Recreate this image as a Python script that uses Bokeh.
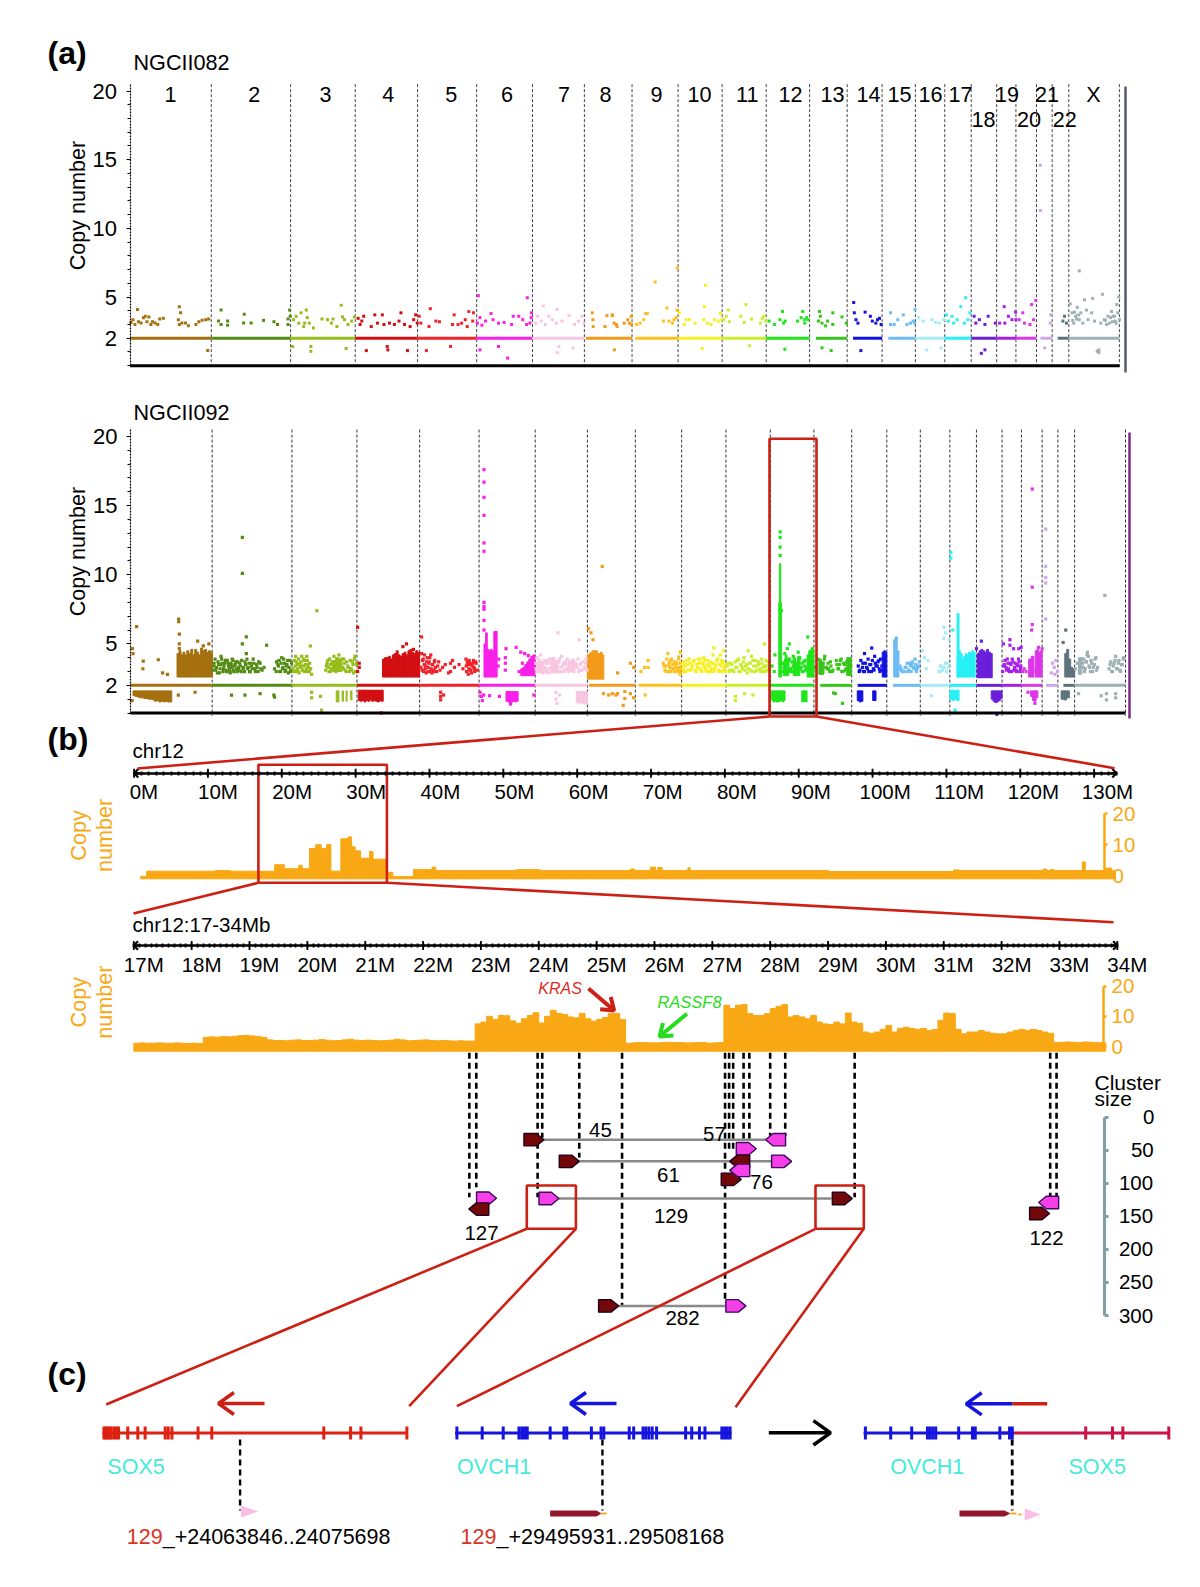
from math import atan2, cos, sin, pi
from bokeh.plotting import figure
from bokeh.models import Range1d, LinearAxis, FixedTicker
from bokeh.embed import file_html
from bokeh.resources import INLINE
from bokeh.core.properties import value

FONT = "Liberation Sans"

# ---------------------------------------------------------------- data
CHROM_NAMES = ["1","2","3","4","5","6","7","8","9","10","11","12","13","14","15","16","17","18","19","20","21","22","X"]
CHROM_LEN = [249,243,198,191,181,171,159,146,141,135,135,133,115,107,102,90,81,78,59,63,48,51,155]
CHROM_COLOR = ["#a5700f","#528a12","#97bd1c","#d20f12","#f2222a","#f91fe8","#f8c6e0","#f39a1b","#fdc01e","#f7f01f",
               "#c9ee2a","#1fe61a","#38c41a","#1212df","#6cbcf5","#a6ecf6","#27f0f6","#6a1fd9","#a61fe8","#dc36e8",
               "#cfa6ec","#5d737b","#9db0b5"]
CN_LINE_START = [0,0,0,0,0,0,0,5,10,0,0,0,19,18,19,0,0,0,0,0,12,17,0]

A1_POS = [
 [3,9,15,23,26,34,41,47,52,58,64,69,77,85,91,102,151,155,148,151,159,170,179,202,211,221,232,241,238],
 [30,22,30,50,50,101,99,122,160,192,203,235,240,235,242],
 [6,62,62,170,9,17,25,32,40,48,51,43,57,70,96,113,125,130,142,155,159,165,176,187,196],
 [34,98,100,160,9,15,20,26,49,60,68,83,88,105,120,140,134,151,168,179,185,190],
 [27,101,5,10,39,35,56,67,107,112,124,135,146,157,171,152,169],
 [5,155,10,67,95,2,10,16,27,44,50,67,84,107,112,129,141,153,163,168,167],
 [33,75,10,16,27,39,50,61,73,90,112,129,141,152,158,81,76,124],
 [24,26,27,63,69,86,98,85,91,92,100,122,133,138,144,145],
 [14,25,36,42,47,71,96,107,113,124,129,138,135,138],
 [4,19,24,35,52,74,81,84,79,90,101,112,123,134,130],
 [4,13,19,22,57,68,73,84,90,117,123,128,134],
 [9,25,42,50,53,58,57,96,107,112,118,124,129,118],
 [30,27,38,38,49,66,71,71,99,113,33,55],
 [20,22,27,33,55,42,71,77,88,99,104,93],
 [26,26,37,48,65,76,87,95,101,100],
 [24,35,51,62,79,73,86,10],
 [5,11,22,27,38,49,64,60,71,77],
 [9,14,25,42,42,31,52,74],
 [9,23,25,36,47,58,59],
 [10,21,26,43,48,54,61],
 [12,12,25,44,42],
 [33,38,44],
 [32,4,10,15,21,26,32,37,48,54,43,59,73,70,79,103,109,120,125,131,142,147,153,155,150,136,98,87,92,92,12,18,24,30,112,116,128,134,140,145],
]
A1_CN = [
 [3.15,3.35,3.0,4.1,3.2,3.1,3.5,3.6,3.2,3.55,3.0,3.2,3.1,3.0,3.4,3.45,4.3,3.85,3.35,3.0,3.1,3.1,2.9,3.0,3.2,3.3,3.35,3.4,1.1],
 [4.05,3.25,3.0,3.25,2.95,3.75,3.1,3.1,3.3,3.2,3.0,3.4,4.05,3.0,3.6],
 [1.4,1.4,1.05,1.25,3.35,3.6,3.1,3.85,2.85,4.05,3.5,3.1,3.1,2.75,3.4,3.35,3.1,3.4,2.85,4.4,3.55,3.35,3.0,3.25,3.55],
 [1.1,1.4,1.15,1.1,3.45,3.0,3.25,3.6,2.85,3.7,3.1,3.7,3.0,3.1,3.0,3.85,3.25,3.0,2.85,3.35,3.7,3.1],
 [1.1,1.4,3.6,3.1,4.15,2.85,3.25,3.2,3.0,3.7,3.0,3.1,3.35,3.95,3.85,2.85,3.25],
 [5.1,4.95,1.15,1.4,.55,3.1,3.5,2.95,3.25,3.8,3.35,3.1,3.15,3.0,3.6,3.6,3.35,3.0,3.1,3.85,3.5],
 [4.35,4.1,3.1,3.6,3.25,3.0,3.6,3.35,3.1,3.25,3.65,3.0,3.25,3.6,3.1,1.4,.95,1.3],
 [3.85,3.35,2.85,2.85,3.65,3.65,3.0,3.7,3.1,1.15,2.85,3.1,3.35,3.1,3.6,3.0],
 [3.0,3.1,3.35,3.8,3.8,6.1,3.25,4.2,3.25,3.1,3.35,4.05,3.5,7.1],
 [3.85,3.0,3.35,3.35,3.1,1.25,4.3,5.85,3.35,3.1,3.0,3.35,3.25,3.35,3.8],
 [3.35,3.6,4.05,3.2,3.6,3.15,4.45,1.45,3.4,3.1,3.45,3.6,3.25],
 [3.25,3.0,3.35,3.95,3.1,3.25,1.2,3.25,3.5,3.95,3.35,3.5,3.35,3.1],
 [3.95,3.25,3.1,1.3,2.9,1.1,3.85,3.0,3.55,3.1,3.6,3.25],
 [4.6,3.85,3.35,3.1,3.9,1.1,3.6,3.25,3.1,3.45,3.0,3.35],
 [3.85,3.0,3.0,3.35,3.7,3.0,3.1,3.25,4.1,3.1],
 [3.25,1.15,3.35,3.15,1.3,3.1,3.35,3.5],
 [3.7,3.25,3.6,3.1,3.35,4.3,4.95,3.1,3.35,3.85],
 [3.6,3.1,3.35,3.0,1.15,.9,3.6,3.1],
 [3.1,4.3,3.1,3.6,3.35,3.9,3.35],
 [3.35,3.85,3.1,3.0,4.45,3.35,4.75],
 [14.6,11.3,1.3,3.7,3.1],
 [3.25,3.6,3.1],
 [6.9,4.5,3.85,3.1,3.6,4.25,3.35,3.85,4.8,4.05,3.1,3.35,4.9,3.85,3.25,5.2,3.35,3.6,3.1,3.95,3.25,4.45,5.0,3.35,3.85,3.6,3.1,1.05,.95,1.15,3.3,3.9,3.4,3.7,3.3,3.0,3.5,3.2,3.6,3.1],
]

A2_POS = [
 [6,8,19,5,39,38,85,98,113,146,197,147,147,149,149,149,205,222,239],
 [3,6,9,13,16,20,24,27,30,33,36,40,44,48,52,55,58,61,64,68,72,76,80,84,88,92,92,104,92,96,100,104,108,112,116,120,125,130,135,140,146,152,158,166,190,195,200,204,208,212,216,220,224,228,232,236,240,59,100,146,188,190,
  5,11,18,22,26,29,34,38,42,46,50,54,57,60,63,66,70,74,78,82,86,90,94,98,102,106,110,114,118,122,127,132,137,142,148,196,202,206,210,214,218,222,226,230,234,238,242],
 [4,8,11,14,17,20,22,25,28,30,33,36,39,42,45,48,51,54,57,60,76,56,60,60,87,90,103,107,111,115,118,122,125,128,131,134,137,140,143,146,149,152,156,160,165,170,175,180,184,188,192,196,
  6,10,13,16,19,24,27,32,35,38,41,44,47,50,53,105,109,113,117,120,155,158,162,167,172,178,182,186,190,194,197],
 [2,7,7,2,74,151,140,172],
 [6,6,4,9,12,15,18,20,23,26,29,32,34,37,40,43,46,50,55,58,62,70,78,88,94,94,100,106,120,132,141,143,146,148,151,153,155,158,165,170,168,162,64,64,64,73,
  8,11,14,17,21,25,28,31,35,38,42,45,48,52,142,145,150,152,156,160,164,167,172,176],
 [15,15,15,15,15,15,15,15,15,15,15,82,80,80,80,113,127,139,150,3,7,10,14,32,62,96,167,58,122,132,60],
 [3,6,9,13,16,20,24,28,32,36,40,44,48,72,76,80,84,88,92,96,125,130,135,140,150,155,69,134,63,63,74,66,
  2,5,8,12,15,18,22,26,30,34,38,42,46,50,54,58,62,66,74,78,82,86,90,94,98,102,106,110,114,118,122,127,132,137,142,146,150,154,158],
 [45,3,11,17,92,131,141,49,65,76,92,87,114,114,109,131,141],
 [17,28,39,39,30,88,99,105,116,121,127,132,137,137,137,94,110,124,130,
  85,90,92,96,100,102,104,107,109,112,114,118,120,123,126,129,132,134,136,138,140],
 [4,8,13,18,23,28,33,38,44,48,52,56,60,65,68,72,76,80,84,88,92,96,100,105,110,115,120,124,128,132,98,127,118,122,
  2,6,10,16,20,25,30,36,42,46,50,54,58,62,66,70,74,78,82,86,90,94,98,102,107,112,117,122,126,130,134],
 [29,29,57,82,68,78,117,4,10,15,20,30,35,40,45,50,55,60,65,72,76,82,88,92,98,104,108,112,118,122,126,130,134,
  6,12,18,24,28,33,38,43,48,53,58,63,68,74,79,85,90,95,100,106,110,114,120,124,128,132],
 [30,30,30,30,34,114,58,52,85,129,5,12,40,44,48,56,62,66,70,75,80,88,92,96,100,106,110,60,70,14,50,
  36,38,42,46,50,54,58,63,68,72,76,80,84,88,90,94,98,102,104,108],
 [33,28,38,65,87,60,5,12,20,25,45,50,55,70,75,80,85,90,95,100,105,110,40,
  22,27,32,36,43,48,52,58,68,73,78,83,88,93,98,102,107,112],
 [61,39,34,50,72,83,23,39,45,70,55,60,66,78,88,90,
  20,25,28,33,36,42,48,52,58,63,68,74,80,84,86,92],
 [29,70,86,81,97,64,53,42,48,58,76,92,40,45,50,56,62,67,72,74,78,84,88,90,94,99],
 [7,12,34,23,61,72,83,72,77,88,72,66,56,18,60,64,68,76,80,85],
 [3,3,9,16],
 [15,0,62],
 [4,24,24,35,51,58,5,9,14,18,22,27,31,36,40,44,48,52,56,2,7,12,16,20,25,29,33,38,42,46,50,54,57],
 [33,33,33,31,52,63,20,41,3,8,14,45,50],
 [11,11,11,11,11,32,37,42,47,28,39],
 [24,16],
 [92,39,81,97,97,125,125,12,24,28,32,36,42,46,50,55,60,65,70,105,110,115,120,125,130,135,140,145,150,
  3,8,20,26,30,34,38,44,48,52,57,62,67,108,113,118,123,128,133,138,143,148,152],
]
A2_CN = [
 [4.65,4.3,6.25,.9,3.75,3.2,3.85,2.9,2.8,1.3,1.5,6.8,6.6,5.7,5.0,4.65,5.2,4.85,5.0],
 [3.1,3.6,3.9,3.3,2.9,3.5,3.2,4.1,3.6,3.0,3.4,3.8,3.0,3.6,3.2,2.9,3.5,3.9,3.1,3.4,3.7,3.0,3.3,3.6,3.0,12.7,10.1,5.5,5.0,3.3,3.7,4.3,3.2,3.6,3.0,3.4,3.9,3.2,3.5,3.0,3.6,3.1,3.3,4.9,3.2,3.0,3.5,3.8,3.0,4.0,3.3,3.6,3.1,3.5,2.9,3.8,3.1,1.3,1.3,1.4,1.3,1.15,
  3.4,3.1,3.7,2.9,3.5,3.9,3.2,3.6,3.1,3.8,3.4,3.0,3.6,3.3,3.8,3.0,3.5,3.2,3.7,3.1,3.4,3.8,3.2,3.0,3.5,3.9,3.3,3.0,3.6,3.2,3.6,3.0,3.3,3.7,3.2,3.7,3.4,3.0,3.6,3.2,3.9,3.0,3.4,3.8,3.3,3.0,3.6],
 [3.2,3.8,4.1,3.0,3.5,3.9,2.9,3.3,3.7,4.1,3.1,3.4,3.8,3.0,4.1,3.5,3.0,3.6,3.2,2.8,7.4,4.85,1.5,1.1,1.2,.2,3.1,3.6,3.3,3.9,3.0,3.7,3.2,4.1,3.5,3.0,3.8,3.3,4.2,3.1,3.6,3.9,3.2,3.6,3.0,3.4,3.0,3.2,3.7,2.9,4.1,3.5,
  3.0,3.4,3.7,3.2,3.0,3.6,3.4,3.1,3.9,3.0,3.5,3.2,3.8,3.3,3.0,3.4,3.8,3.0,3.5,3.2,3.3,3.9,3.1,3.7,3.3,3.8,3.1,3.5,3.9,3.0,3.6],
 [6.2,3.6,3.3,3.0,0.0,5.0,4.8,4.6],
 [5.5,4.3,3.3,3.8,3.0,4.2,3.4,2.9,4.0,3.3,3.7,3.0,4.2,2.9,3.5,3.1,3.8,3.0,3.4,3.7,3.1,3.3,3.5,2.9,3.6,3.0,3.8,3.3,3.5,3.2,3.9,3.0,3.5,2.8,3.8,3.1,3.5,2.9,3.3,3.7,3.0,3.6,1.5,1.2,.95,1.3,
  3.1,3.9,3.5,3.2,3.7,3.0,3.6,4.0,3.2,3.5,3.0,3.7,3.3,3.0,3.4,3.7,3.2,3.6,3.1,3.4,3.8,3.2,3.6,3.1],
 [17.6,16.7,15.6,14.3,12.3,11.7,8.0,7.7,7.5,6.7,6.0,4.65,4.0,3.6,3.1,4.75,4.4,4.3,4.15,1.5,1.2,.9,1.3,1.25,1.2,.65,1.3,3.4,3.0,3.6,3.9],
 [3.2,4.0,3.5,3.0,4.2,3.4,2.9,3.8,3.1,3.6,2.9,3.9,3.3,3.7,3.0,4.1,3.4,3.0,3.7,3.2,3.5,3.9,3.1,3.6,3.3,3.9,5.8,5.3,1.5,1.0,1.3,.7,
  3.6,3.0,3.3,3.7,3.1,3.5,3.0,3.6,3.3,3.0,3.8,3.2,3.6,3.0,3.4,3.7,3.1,3.5,3.9,3.3,3.0,3.6,3.1,3.5,3.9,3.0,3.4,3.2,3.7,3.0,3.6,3.3,3.0,3.5,3.1,3.7,3.2,3.6,3.1],
 [10.6,6.1,5.8,5.3,2.9,3.6,3.3,1.4,1.3,1.4,1.4,1.3,1.55,1.05,.55,1.4,1.1],
 [3.0,3.3,3.8,3.3,1.3,3.4,4.3,3.3,3.2,3.6,3.0,4.05,4.4,3.6,2.8,3.0,3.9,3.5,3.2,
  3.6,3.1,3.4,3.9,3.0,3.5,3.7,3.0,3.8,3.2,3.5,3.0,3.7,3.3,3.6,3.1,3.9,3.3,3.0,3.6,3.2],
 [3.2,3.7,3.0,3.5,3.9,3.1,3.4,3.8,3.0,3.3,3.6,3.9,3.1,3.6,4.0,3.3,3.0,3.8,3.4,3.0,3.6,4.2,3.2,3.5,3.9,3.0,3.4,3.7,3.1,3.5,4.7,4.5,4.2,3.8,
  3.5,3.0,3.4,3.8,3.1,3.6,3.2,3.7,3.1,3.5,3.9,3.2,3.6,3.0,3.4,3.8,3.1,3.5,3.0,3.7,3.2,3.6,3.0,3.4,3.8,3.1,3.5,3.0,3.7,3.3,3.0],
 [1.2,.9,1.4,1.3,4.5,4.1,5.0,3.4,3.0,3.6,3.1,3.3,3.8,3.0,3.5,3.2,4.0,3.4,2.9,3.6,3.1,3.8,3.0,3.4,3.7,3.2,3.9,3.0,3.4,3.8,3.1,3.7,3.3,
  3.6,3.1,3.5,3.0,3.7,3.3,3.9,3.0,3.4,3.7,3.1,3.5,3.2,3.6,3.0,3.4,3.8,3.1,3.5,3.0,3.6,3.3,3.0,3.4,3.7,3.2],
 [13.1,12.7,12.0,11.4,7.4,5.5,5.0,4.65,4.4,4.65,3.4,3.0,3.6,4.3,3.0,3.8,3.2,3.7,4.1,3.0,3.5,3.9,3.2,3.6,3.0,3.8,3.3,3.0,3.4,4.2,3.9,
  3.6,3.0,3.3,3.8,3.1,3.5,3.9,3.2,3.0,3.7,3.4,3.0,3.6,3.2,4.0,3.3,3.0,3.7,3.4,3.1],
 [4.1,3.6,3.3,1.4,.7,1.45,3.3,3.9,3.0,3.6,3.2,3.7,3.0,3.5,3.2,3.8,3.0,3.6,3.1,3.7,3.0,3.4,3.2,
  3.4,3.0,3.9,3.3,3.6,3.0,3.4,3.1,3.8,3.2,3.5,3.9,3.0,3.5,3.2,3.7,3.0,3.4],
 [4.7,4.3,3.6,3.9,3.6,3.8,3.0,3.0,3.3,4.1,3.5,3.0,3.2,3.4,3.9,3.1,
  3.4,3.1,3.8,3.3,3.0,3.6,3.2,3.0,3.5,3.8,3.1,3.4,3.7,3.2,3.0,3.4],
 [5.4,3.6,3.9,3.3,3.4,3.0,3.0,3.2,3.0,3.3,3.5,3.2,3.4,3.1,3.0,3.3,3.6,3.1,3.4,3.0,3.7,3.2,3.5,3.0,3.3,3.7],
 [4.5,4.0,1.25,3.8,3.4,3.3,3.6,6.2,5.8,5.3,5.4,3.1,3.0,3.2,3.0,3.4,3.1,3.6,3.0,3.3],
 [11.6,11.2,6.0,.2],
 [5.2,4.65,-.1],
 [5.0,5.3,4.9,4.65,4.65,4.75,3.4,3.8,3.1,3.6,3.0,3.5,3.9,3.1,3.6,3.0,3.4,3.7,3.2,3.0,3.5,3.3,3.9,3.2,3.6,3.0,3.7,3.3,3.1,3.5,3.9,3.0,3.4],
 [16.2,9.1,6.4,6.0,4.75,4.65,1.5,.7,3.0,3.2,3.0,3.1,3.4],
 [13.3,10.6,9.8,9.4,6.8,3.6,3.3,3.8,3.0,2.9,2.8],
 [6.0,5.1],
 [8.5,4.4,1.25,1.4,.95,1.4,1.1,1.4,3.6,3.9,3.2,3.7,4.1,3.3,3.8,3.0,3.5,4.0,3.3,3.2,3.7,3.0,3.6,4.1,3.2,3.8,3.0,3.5,4.0,
  3.2,3.6,3.9,3.3,3.0,3.7,4.2,3.4,3.0,3.6,3.3,3.9,3.1,3.5,3.0,3.4,3.8,3.2,3.6,3.1,3.5,3.9],
]

# solid areas of overlapping points: chromosome, start Mb, end Mb, fixed CN edge, jagged CN edge
DENSE = [
 (1,8,126,1.6,[1.25,1.2,1.15,1.1,1.1,1.05,1.05,1.0,1.0,.95,.85,.9,.8,.85,.8,.85,.8,.8]),
 (1,142,250,2.6,[4.3,4.5,4.2,4.4,4.2,4.5,4.3,4.6,4.2,4.6,4.4,4.2,4.7,4.5,4.6,4.4,4.5,4.4]),
 (3,135,143,1.6,[.8]),(3,153,157,1.6,[.85]),(3,165,168,1.6,[.85]),(3,179,183,1.6,[.95]),
 (3,124,152,3.0,[3.8,4.0,3.9]),
 (4,4,80,1.65,[.9,.85,.9,.8,.9,.85,.95,.85,.9,.85,.8,.9,.85]),
 (4,78,191,2.6,[3.9,4.0,4.0,4.1,3.9,4.2,4.3,4.5,4.2,4.1,4.3,4.4,4.2,4.5,4.6,4.4,4.3,4.5,4.4]),
 (6,15,55,2.6,[5.0,5.8,4.6,4.5,4.6,4.5,5.9,5.9]),
 (6,82,119,1.55,[.85,.8,.75,.8,.85,.8,.85]),
 (6,127,170,2.7,[3.2,3.3,3.5,3.7,3.9,4.1,4.2]),
 (7,125,159,1.55,[.75,.7,.75,.7,.7,.65,.7]),
 (7,10,25,2.9,[3.9,3.7]),(7,50,70,2.9,[4.0,3.8]),(7,100,120,3.0,[3.8,3.9]),
 (8,0,50,2.45,[4.2,4.3,4.4,4.5,4.5,4.5,4.3,4.3,4.4,4.2]),
 (12,3,45,1.6,[.95,.8,.85,.8,.8,.85,.9,.8,.9]),
 (12,96,112,1.6,[.8,.85,.8]),
 (12,112,133,2.6,[4.2,4.5,4.6,4.5]),
 (12,26,34,2.6,[8.0,8.0]),(12,28,32,8.0,[10.8]),
 (12,40,56,2.7,[3.6,4.2,3.8]),(12,70,90,2.7,[4.0,3.7,4.1]),
 (13,15,30,2.8,[3.9,3.6]),(13,100,114,2.7,[4.0]),
 (14,17,34,1.6,[.9,.8,.85]),(14,64,74,1.6,[.9]),(14,93,107,2.6,[4.4,4.5,4.4]),
 (15,21,37,2.6,[5.3,5.5,4.5]),
 (17,0,28,1.65,[1.0,.9,1.0,.9]),
 (17,22,77,2.6,[4.0,4.5,4.3,3.9,4.1,4.3,4.2,4.4,4.3,4.5,4.4]),(17,22,28,2.6,[7.2]),
 (18,2,48,2.55,[4.3,4.5,4.6,4.5,4.4,4.6,4.4,4.3]),(18,45,78,1.6,[1.0,.85,.75,.8,.9,1.05]),
 (20,22,38,2.6,[3.9,4.1]),(20,42,63,2.6,[4.5,4.6,4.4,4.5]),(20,28,50,1.6,[1.2,.9,.85,1.1]),
 (22,21,51,2.6,[4.3,4.6,3.9,3.3,3.2]),(22,10,35,1.6,[1.0,.95,1.1]),
 (23,12,22,2.8,[4.0]),
]

RULER1_LABELS = list(range(0, 131, 10))
RULER2_LABELS = list(range(17, 35))

HIST1_EDGES = [0.9,1.7,11,13,19.04,20.35,22.3,22.77,23.74,24.6,25.34,26.06,26.65,28.0,28.97,29.46,29.94,30.67,31.88,32.36,34.3,35.03,37.84,40.35,40.84,51.8,55,67.2,67.8,69.9,70.6,70.9,71.5,75,75.3,94.06,97.2,111,111.7,123.1,123.6,124.1,124.6,128.4,128.8,131.6,132.4,132.9]
HIST1_VALS = [-0.3,1.4,1.6,1.4,3.5,2.2,3.3,2.2,8.7,10,8.7,10,1.4,11.9,12.5,9.3,8,5.6,7.8,5.3,1.0,-0.3,1.9,2.7,1.6,1.9,1.6,2.1,1.6,2.7,1.7,2.6,1.6,2.5,1.6,1.3,1.3,1.8,1.6,2.1,1.6,1.9,1.6,4.4,1.6,2.4,1.5]

HIST2_START = 17.0
HIST2_BIN = 0.1
HIST2_VALS = [
 1.1,1.2,1.1,1.1,1.2,1.1,1.1,1.2,1.1,1.0,1.1,1.0,
 3.0,3.2,3.1,3.3,3.2,3.4,3.6,3.7,3.5,3.3,3.0,
 2.2,2.0,2.0,1.9,2.1,2.2,2.0,2.0,2.1,2.3,2.1,1.9,2.0,2.2,2.4,2.1,2.0,2.1,2.0,1.9,2.0,2.1,2.4,2.2,1.9,2.0,2.1,2.2,2.0,1.9,2.0,1.9,1.8,1.9,1.8,1.8,
 7.5,8.1,10.0,9.0,10.3,10.2,8.5,7.7,9.2,10.3,11.2,7.8,10.0,12.0,11.0,10.6,9.8,9.5,11.0,9.2,8.4,9.0,9.6,10.9,11.0,9.0,
 1.1,1.2,1.3,1.3,1.2,1.2,1.3,1.4,1.3,1.3,1.2,1.2,1.3,1.3,1.1,1.2,1.3,
 13.7,12.6,13.7,13.9,10.9,10.3,10.3,10.9,12.6,13.3,13.9,9.8,10.3,9.8,9.2,10.3,8.1,7.5,7.3,8.1,7.5,11.1,8.1,7.7,4.8,4.4,4.8,5.7,7.0,4.8,6.0,6.4,6.0,5.7,6.0,5.3,5.7,8.7,11.1,10.9,5.7,4.2,4.8,4.8,5.3,4.8,4.4,4.2,4.2,4.8,5.3,5.7,5.3,5.7,5.3,4.8,4.4,
 1.3,1.4,1.5,1.4,1.3,1.5,1.4,1.3,1.2,
]

BREAK_MB = [22.80,22.92,23.98,24.06,24.70,25.44,27.22,27.29,27.36,27.54,27.64,28.00,28.26,29.46,32.84,32.95]
BREAK_END = [121,106,121,31,61,284,281,50,50,38,38,28,28,121,121,121]

CLUSTER_NAMES = ["45","57","61","76","129","127","122","282"]
CLUSTER_MARKS = [  # tip Mb, row, direction, kind
 (24.09,34,1,"d"),(27.92,34,-1,"m"),
 (27.76,47.7,1,"m"),(27.50,94,1,"d"),
 (24.70,66.8,1,"d"),(28.37,66.8,1,"m"),
 (27.30,66.8,-1,"d"),(27.30,80.4,-1,"m"),
 (24.35,123,1,"m"),(29.42,123,1,"d"),
 (23.27,122.6,1,"m"),(22.79,139,-1,"d"),
 (32.64,129,-1,"m"),(32.83,145.7,1,"d"),
 (25.38,285.5,1,"d"),(27.58,285.5,1,"m"),
]
CLUSTER_LINKS = [(24.09,27.92,34),(24.70,28.02,66.8),(24.35,29.06,123),(25.38,27.22,285.5)]
CLUSTER_TICKS = [0,50,100,150,200,250,300]

SOX5_EXONS = [4.7,10.5,16.5,22.6,28.6,37.7,45.3,52.9,82.9,116,140,206,216,228,314,359,727,815,849,1000]
SOX5_BREAK = 452
OVCH1_EXONS = [.65,9.8,17.4,23.1,24.1,25.1,26.1,34.4,39.4,40.4,49.3,52.8,53.8,63,64.6,68,69,70.1,71.3,72.9,83.4,85.6,88.4,90.4,96.5,97.5,98.5,99.5]
OVCH1_BREAK = 53.3

# ---------------------------------------------------------------- layout (page pixels)
X0, X1, Y0, Y1 = 0, 1184, 0, 1570
ORANGE = "#f9a815"
RED = "#cc2014"
BLUE = "#1414dd"
TURQ = "#45ead8"
GREY = "#7f9ea6"

def xr(v0, p0, v1, p1):
    s = (v1 - v0) / (p1 - p0)
    return Range1d(v0 + (X0 - p0) * s, v0 + (X1 - p0) * s)

def yr(v0, p0, v1, p1):
    s = (v1 - v0) / (p1 - p0)
    return Range1d(v0 + (Y1 - p0) * s, v0 + (Y0 - p0) * s)

TOTAL = sum(CHROM_LEN)
p = figure(width=X1 - X0, height=Y1 - Y0, x_range=Range1d(X0, X1), y_range=Range1d(Y1, Y0),
           x_axis_type=None, y_axis_type=None, toolbar_location=None, output_backend="svg",
           min_border=0, outline_line_color=None, background_fill_color="white", border_fill_color="white")
p.extra_x_ranges = {
    "a1x": xr(0, 129.5, TOTAL, 1118.9), "a2x": xr(0, 129.9, TOTAL, 1125.0),
    "b1x": xr(0, 133.6, 130, 1093.6), "b1l": xr(10, 217.5, 130, 1107),
    "b2x": xr(17, 133.3, 34, 1116.8), "b2l": xr(17, 143.3, 34, 1126.8),
    "sox": xr(0, 102, 1000, 406.4), "ovc": xr(0, 454.6, 100, 731),
    "sof": xr(0, 863.9, 1000, 1168.3), "ovf": xr(0, 863.1, 100, 1139.5),
}
p.extra_y_ranges = {
    "a1y": yr(0, 365.2, 20, 90.5), "a2y": yr(0, 712.5, 20, 436),
    "b1y": yr(0, 875, 20, 813.3), "b2y": yr(0, 1046, 20, 985.7),
    "cl": yr(0, 1116.7, 300, 1315),
}

def txt(x, y, s, size=21, color="black", align="center", style="normal", angle=0.0, **kw):
    p.text(x=[x], y=[y], text=[s], text_font=value(FONT), text_font_size=f"{size}px", text_color=color,
           text_align=align, text_baseline="middle", text_font_style=style, angle=angle, **kw)

def arrow(x0, y0, x1, y1, color, width, head, spread=0.62):
    a = atan2(y1 - y0, x1 - x0)
    xs, ys = [x0, x1], [y0, y1]
    hx = [x1 - head * cos(a - spread), x1, x1 - head * cos(a + spread)]
    hy = [y1 - head * sin(a - spread), y1, y1 - head * sin(a + spread)]
    p.multi_line([xs, hx], [ys, hy], line_color=color, line_width=width)

def genome_panel(xn, yn, pos, cn, left_px, end_px, end_top, end_bot, end_color, dash_color, point_size, dense=None):
    starts, c = [], 0
    for n in CHROM_LEN:
        starts.append(c)
        c += n
    # chromosome dividers
    p.segment(x0=starts[1:] + [TOTAL], y0=[20.5] * 23, x1=starts[1:] + [TOTAL], y1=[-0.2] * 23,
              x_range_name=xn, y_range_name=yn, line_color=dash_color, line_width=1, line_dash="3 2")
    # copy number 2 baseline
    p.segment(x0=[s + o for s, o in zip(starts, CN_LINE_START)], y0=[2] * 23,
              x1=[s + n for s, n in zip(starts, CHROM_LEN)], y1=[2] * 23,
              x_range_name=xn, y_range_name=yn, line_color=CHROM_COLOR, line_width=3)
    if dense:
        L, R, B, T, C = [], [], [], [], []
        for ch, a, b, fixed, edge in dense:
            w = (b - a) / len(edge)
            for i, e in enumerate(edge):
                L.append(starts[ch - 1] + a + i * w)
                R.append(starts[ch - 1] + a + (i + 1) * w)
                B.append(min(fixed, e))
                T.append(max(fixed, e))
                C.append(CHROM_COLOR[ch - 1])
        p.quad(left=L, right=R, bottom=B, top=T, x_range_name=xn, y_range_name=yn, fill_color=C, line_color=C, line_width=1)
    X, Y, C = [], [], []
    for i, (ps, cs) in enumerate(zip(pos, cn)):
        for a, b in zip(ps, cs):
            X.append(starts[i] + a)
            Y.append(b)
            C.append(CHROM_COLOR[i])
    p.scatter(x=X, y=Y, x_range_name=xn, y_range_name=yn, marker="square", size=point_size,
              fill_color=C, line_color=None)
    # bottom line and end bar
    p.segment(x0=[0], y0=[0], x1=[TOTAL], y1=[0], x_range_name=xn, y_range_name=yn, line_color="black", line_width=3)
    p.segment(x0=[end_px], y0=[end_top], x1=[end_px], y1=[end_bot], line_color=end_color, line_width=2.5)
    ax = LinearAxis(y_range_name=yn, fixed_location=left_px, bounds=(0, 20.5),
                    ticker=FixedTicker(ticks=[2, 5, 10, 15, 20], minor_ticks=list(range(0, 21))),
                    major_tick_in=0, major_tick_out=4, minor_tick_in=0, minor_tick_out=3,
                    major_tick_line_width=1.2, minor_tick_line_width=1.2, axis_line_width=1.2,
                    axis_line_dash="2 1", major_label_standoff=9,
                    major_label_text_font=FONT, major_label_text_font_size="22px", major_label_text_color="black")
    p.add_layout(ax, "left")

def ruler(xn, ln, y, ticks, minors, bound, labels):
    ax = LinearAxis(x_range_name=xn, fixed_location=y, bounds=bound,
                    ticker=FixedTicker(ticks=[], minor_ticks=minors),
                    minor_tick_in=2, minor_tick_out=2, minor_tick_line_width=1.8,
                    axis_line_width=2.4)
    p.add_layout(ax, "below")
    p.segment(x0=ticks, y0=[y - 4.5] * len(ticks), x1=ticks, y1=[y + 4.5] * len(ticks), x_range_name=xn,
              line_color="black", line_width=1.8)
    lab = LinearAxis(x_range_name=ln, fixed_location=y, ticker=FixedTicker(ticks=ticks),
                     axis_line_color=None, major_tick_line_color=None, minor_tick_line_color=None,
                     major_label_overrides={t: s for t, s in zip(ticks, labels)}, major_tick_in=0, major_tick_out=0,
                     major_label_standoff=7, major_label_text_font=FONT, major_label_text_font_size="20.5px",
                     major_label_text_color="black")
    p.add_layout(lab, "below")

def copy_axis(yn, loc):
    ax = LinearAxis(y_range_name=yn, fixed_location=loc, bounds=(0, 20),
                    ticker=FixedTicker(ticks=[0, 10, 20]), axis_line_color=ORANGE, axis_line_width=2.5,
                    major_tick_line_color=ORANGE, major_tick_line_width=2.5, major_tick_in=0, major_tick_out=3,
                    minor_tick_line_color=None, major_label_standoff=5, major_label_text_color=ORANGE,
                    major_label_text_font=FONT, major_label_text_font_size="20.5px")
    p.add_layout(ax, "right")

# ---------------------------------------------------------------- panel (a)
txt(47, 52, "(a)", 32, align="left", style="bold")
txt(133, 61.7, "NGCII082", 21.6, align="left")
txt(133, 412.3, "NGCII092", 21.6, align="left")
txt(77, 205, "Copy number", 21.6, angle=pi / 2)
txt(77, 551, "Copy number", 21.6, angle=pi / 2)
genome_panel("a1x", "a1y", A1_POS, A1_CN, 129.5, 1125, 86, 372, "#565a6e", "#444444", 3)
genome_panel("a2x", "a2y", A2_POS, A2_CN, 130, 1129, 432, 718, "#7a2a80", "#333333", 3.2, DENSE)

label_px = [170,253.8,325,387.8,450.7,506.5,563.5,605,656,699,746.8,790,832,868,899,930,960,983,1006.4,1028.6,1046.4,1064.3,1092.9]
label_py = [94,94,94,94,94,94,94,94,94,94,94,94,94,94,94,94,94,119.3,94,119.3,94,119.3,94]
for s, lx, ly in zip(CHROM_NAMES, label_px, label_py):
    txt(lx, ly, s, 21.6)

# ---------------------------------------------------------------- panel (b)
txt(47, 738, "(b)", 32, align="left", style="bold")
txt(132, 750, "chr12", 20.5, align="left")
txt(132, 924, "chr12:17-34Mb", 20.5, align="left")
for yy in (835, 1001.7):
    txt(77.5, yy, "Copy", 21.6, ORANGE, angle=pi / 2)
    txt(104, yy, "number", 21.6, ORANGE, angle=pi / 2)

p.quad(left=HIST1_EDGES[:-1], right=HIST1_EDGES[1:], bottom=[-1.08] * len(HIST1_VALS), top=HIST1_VALS,
       x_range_name="b1x", y_range_name="b1y", fill_color=ORANGE, line_color=ORANGE, line_width=1)
n2 = len(HIST2_VALS)
p.quad(left=[HIST2_START + i * HIST2_BIN for i in range(n2)], right=[HIST2_START + (i + 1) * HIST2_BIN for i in range(n2)],
       bottom=[-1.57] * n2, top=HIST2_VALS, x_range_name="b2x", y_range_name="b2y",
       fill_color=ORANGE, line_color=ORANGE, line_width=1)

ruler("b1x", "b1l", 772.7, RULER1_LABELS, list(range(0, 134)), (0, 133.2), [f"{v}M" for v in RULER1_LABELS])
ruler("b2x", "b2l", 945, RULER2_LABELS, [17 + i * 0.1 for i in range(171)], (17, 34), [f"{v}M" for v in RULER2_LABELS])
for xa, xb, yy in ((139, 133.6, 772.7), (1110, 1116, 772.7), (139, 133.3, 945), (1111, 1116.8, 945)):
    arrow(xa, yy, xb, yy, "black", 2.2, 6, 0.8)
copy_axis("b1y", 1104)
copy_axis("b2y", 1103)

# zoom outlines
red_lines = [
    ([769, 769, 816, 816, 769], [716, 438.3, 438.3, 716, 716]),
    ([769, 137], [716, 768]), ([816, 1114], [716, 767.7]),
    ([257.9, 257.9, 386.4, 386.4, 257.9], [882.3, 764.3, 764.3, 882.3, 882.3]),
    ([257.9, 133], [882.3, 913]), ([386.4, 1113], [882.3, 921.7]),
]

txt(559.6, 988.3, "KRAS", 16, "#e02a1e", style="italic")
txt(689, 1001.7, "RASSF8", 16.5, "#26dc20", style="italic")
arrow(588, 988, 613.6, 1010, RED, 4, 14)
arrow(686.4, 1013.3, 659, 1036, "#26dc20", 4, 14)

# cluster track
p.segment(x0=BREAK_MB, y0=[-97.6] * len(BREAK_MB), x1=BREAK_MB, y1=BREAK_END, x_range_name="b2x", y_range_name="cl",
          line_color="black", line_width=2.6, line_dash="6 4")
p.segment(x0=[l[0] for l in CLUSTER_LINKS], y0=[l[2] for l in CLUSTER_LINKS], x1=[l[1] for l in CLUSTER_LINKS],
          y1=[l[2] for l in CLUSTER_LINKS], x_range_name="b2x", y_range_name="cl", line_color="#8a8a8a", line_width=2.5)
MW, MH = 0.346, 18.9
for tip, row, d, kind in CLUSTER_MARKS:
    xs = [tip - d * MW, tip - d * 0.38 * MW, tip, tip - d * 0.38 * MW, tip - d * MW]
    ys = [row - MH / 2, row - MH / 2, row, row + MH / 2, row + MH / 2]
    p.patch(xs, ys, x_range_name="b2x", y_range_name="cl",
            fill_color="#720808" if kind == "d" else "#f63fe6", line_color="#200020" if kind == "d" else "#3a0a60", line_width=1.4)
cl_px = [600, 714, 668, 761, 670.5, 481, 1046, 682]
cl_py = [1129, 1133, 1174, 1181, 1215, 1232.7, 1237, 1317.7]
for s, lx, ly in zip(CLUSTER_NAMES, cl_px, cl_py):
    txt(lx, ly, s, 20.5)

# one axis per label width, so that the labels share a right edge
for tks, standoff, show_line in ((CLUSTER_TICKS[2:], 10, True), (CLUSTER_TICKS[1:2], 22, False), (CLUSTER_TICKS[:1], 34, False)):
    ax = LinearAxis(y_range_name="cl", fixed_location=1104.4, bounds=(0, 300), ticker=FixedTicker(ticks=tks),
                    axis_line_color=GREY if show_line else None, axis_line_width=3, major_tick_line_color=GREY,
                    major_tick_line_width=3, major_tick_in=0, major_tick_out=4, minor_tick_line_color=None,
                    major_label_standoff=standoff, major_label_text_font=FONT, major_label_text_font_size="20.5px",
                    major_label_text_color="black")
    p.add_layout(ax, "right")
txt(1094, 1081.7, "Cluster", 21, align="left")
txt(1094, 1098.3, "size", 21, align="left")

red_lines += [
    ([526.3, 526.3, 575.4, 575.4, 526.3], [1228.3, 1185, 1185, 1228.3, 1228.3]),
    ([815, 815, 863.3, 863.3, 815], [1228.3, 1185, 1185, 1228.3, 1228.3]),
    ([526.3, 105.7], [1228.3, 1404]), ([575.4, 408.7], [1228.3, 1405.7]),
    ([815, 456.4], [1228.3, 1405.7]), ([863.3, 735], [1228.3, 1406.7]),
]
p.multi_line([r[0] for r in red_lines], [r[1] for r in red_lines], line_color=RED, line_width=2.6)

# ---------------------------------------------------------------- panel (c)
txt(47, 1373, "(c)", 32, align="left", style="bold")
GY = 1432.5

def gene(xn, a, b, exons, color):
    p.segment(x0=[a], y0=[GY], x1=[b], y1=[GY], x_range_name=xn, line_color=color, line_width=3)
    p.segment(x0=exons, y0=[GY - 6.5] * len(exons), x1=exons, y1=[GY + 6.5] * len(exons), x_range_name=xn,
              line_color=color, line_width=3)

gene("sox", 0, 1000, SOX5_EXONS, "#dd2211")
gene("ovc", 0, 100, OVCH1_EXONS, BLUE)
gene("sof", SOX5_BREAK, 1000, [e for e in SOX5_EXONS if e > SOX5_BREAK], "#cc1144")
gene("ovf", 0, OVCH1_BREAK, [e for e in OVCH1_EXONS if e < 54], BLUE)

arrow(264, 1403, 218, 1403, RED, 3.5, 19)
arrow(616, 1403, 570, 1403, BLUE, 3.5, 19)
p.segment(x0=[1011.7], y0=[1403.3], x1=[1046.7], y1=[1403.3], line_color=RED, line_width=3.5)
arrow(1011.7, 1403.3, 965.7, 1403.3, BLUE, 3.5, 19)
arrow(768.3, 1432.3, 830, 1432.3, "black", 3.5, 21)

for lx, s in ((135.5, "SOX5"), (493.6, "OVCH1"), (926.7, "OVCH1"), (1096.7, "SOX5")):
    txt(lx, 1466, s, 21.5, TURQ)
p.segment(x0=[SOX5_BREAK], y0=[1439], x1=[SOX5_BREAK], y1=[1510], x_range_name="sox",
          line_color="black", line_width=2.4, line_dash="6 4")
p.segment(x0=[OVCH1_BREAK], y0=[1439], x1=[OVCH1_BREAK], y1=[1510], x_range_name="ovc",
          line_color="black", line_width=2.4, line_dash="6 4")
p.segment(x0=[1011.7], y0=[1439], x1=[1011.7], y1=[1510], line_color="black", line_width=2.8, line_dash="6 4")

# mapped reads
p.patch([240.6, 258, 240.6], [1505, 1511, 1517], fill_color="#f9bde6", line_color=None)
p.patch([1024.3, 1040, 1024.3], [1508, 1514, 1520], fill_color="#f9bde6", line_color=None)
p.patch([549.6, 596, 601, 596, 549.6], [1510, 1510, 1513, 1516, 1516], fill_color="#92162e", line_color=None)
p.patch([959, 1004, 1010, 1004, 959], [1510, 1510, 1513, 1516, 1516], fill_color="#92162e", line_color=None)
p.segment(x0=[601, 1010, 1018], y0=[1513, 1513, 1514], x1=[606, 1016, 1021], y1=[1513, 1513, 1514],
          line_color=ORANGE, line_width=2)

txt(126.3, 1536, "129", 21.5, "#d8331f", align="left")
txt(162.2, 1536, "_+24063846..24075698", 21.5, align="left")
txt(460, 1536, "129", 21.5, "#d8331f", align="left")
txt(496, 1536, "_+29495931..29508168", 21.5, align="left")

open("out.html", "w").write(file_html(p, INLINE))
